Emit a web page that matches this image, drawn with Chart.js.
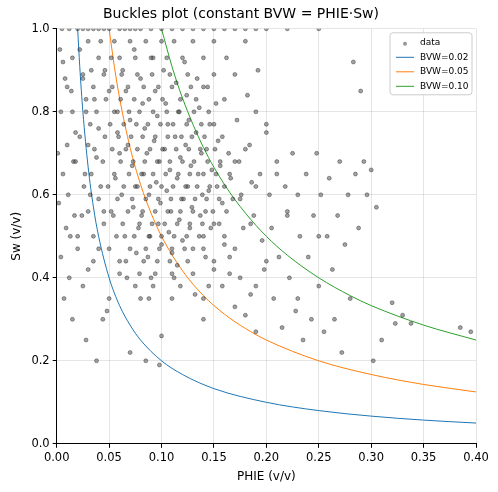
<!DOCTYPE html>
<html><head><meta charset="utf-8">
<script src="https://cdn.jsdelivr.net/npm/chart.js@4"></script>
<style>html,body{margin:0;background:#fff}#w{width:498px;height:492px}</style>
</head><body><div id="w"><canvas id="c" width="498" height="492"></canvas></div>
<script>
const dataPts = [
[0.005,1.0],[0.012,1.0],[0.02,1.0],[0.03,1.0],[0.04,1.0],[0.05,1.0],[0.06,1.0],[0.07,1.0],[0.08,1.0],[0.09,1.0],[0.1,1.0],[0.11,1.0],[0.12,1.0],[0.13,1.0],[0.14,1.0],[0.15,1.0],[0.16,1.0],[0.17,1.0],[0.18,1.0],[0.19,1.0],[0.2,1.0],[0.22,1.0],[0.25,1.0],[0.025,1.0],[0.035,1.0],[0.045,1.0],[0.065,1.0],[0.075,1.0],
[0.003,0.95],[0.008,0.88],[0.004,0.8],[0.01,0.72],[0.006,0.65],[0.002,0.58],[0.009,0.52],[0.004,0.45],[0.012,0.4],[0.007,0.35],[0.015,0.3],[0.011,0.6],[0.014,0.85],[0.016,0.68],[0.018,0.75],[0.013,0.5],[0.02,0.47],[0.017,0.55],[0.001,0.7],[0.006,0.92],
[0.022,0.95],[0.025,0.88],[0.028,0.8],[0.03,0.72],[0.027,0.65],[0.032,0.6],[0.024,0.55],[0.035,0.5],[0.03,0.42],[0.028,0.25],[0.038,0.2],[0.033,0.9],[0.036,0.83],[0.04,0.76],[0.038,0.69],[0.042,0.62],[0.045,0.56],[0.04,0.47],[0.044,0.3],[0.048,0.32],[0.042,0.97],[0.046,0.9],[0.05,0.85],
[0.052,0.93],[0.055,0.8],[0.058,0.75],[0.06,0.7],[0.056,0.64],[0.062,0.6],[0.054,0.55],[0.065,0.5],[0.06,0.44],[0.067,0.4],[0.07,0.22],[0.063,0.9],[0.066,0.85],[0.07,0.78],[0.068,0.72],[0.072,0.67],[0.075,0.62],[0.073,0.57],[0.078,0.52],[0.076,0.46],[0.08,0.35],[0.085,0.2],[0.074,0.95],
[0.08,0.88],[0.082,0.82],[0.084,0.76],[0.086,0.7],[0.083,0.65],[0.088,0.6],[0.081,0.55],[0.089,0.5],[0.087,0.45],[0.09,0.4],[0.092,0.93],[0.094,0.85],[0.096,0.79],[0.093,0.73],[0.098,0.68],[0.095,0.63],[0.099,0.58],[0.097,0.53],[0.1,0.48],[0.098,0.19],[0.1,0.26],
[0.102,0.9],[0.104,0.82],[0.106,0.77],[0.103,0.71],[0.108,0.66],[0.105,0.61],[0.109,0.56],[0.107,0.51],[0.11,0.46],[0.112,0.4],[0.112,0.97],[0.114,0.87],[0.116,0.8],[0.113,0.74],[0.118,0.69],[0.115,0.64],[0.119,0.59],[0.117,0.54],[0.12,0.49],[0.115,0.43],
[0.122,0.92],[0.124,0.84],[0.126,0.78],[0.123,0.72],[0.128,0.67],[0.125,0.62],[0.129,0.57],[0.127,0.52],[0.13,0.47],[0.132,0.36],[0.134,0.88],[0.136,0.81],[0.133,0.75],[0.138,0.7],[0.135,0.65],[0.139,0.6],[0.137,0.55],[0.14,0.5],[0.142,0.45],[0.14,0.3],
[0.144,0.86],[0.146,0.77],[0.143,0.71],[0.148,0.66],[0.145,0.61],[0.149,0.56],[0.147,0.52],[0.15,0.42],[0.152,0.82],[0.154,0.73],[0.156,0.67],[0.153,0.62],[0.158,0.58],[0.155,0.53],[0.16,0.48],[0.158,0.38],[0.162,0.93],[0.164,0.7],[0.166,0.64],[0.168,0.59],[0.165,0.45],[0.17,0.33],
[0.172,0.78],[0.174,0.68],[0.176,0.6],[0.178,0.52],[0.175,0.4],[0.18,0.31],[0.182,0.84],[0.184,0.72],[0.186,0.63],[0.188,0.55],[0.185,0.36],[0.19,0.27],[0.192,0.9],[0.194,0.65],[0.196,0.49],[0.198,0.42],
[0.2,0.75],[0.203,0.6],[0.205,0.52],[0.207,0.35],[0.21,0.68],[0.212,0.45],[0.215,0.28],[0.218,0.62],[0.22,0.55],[0.222,0.4],[0.225,0.7],[0.228,0.32],[0.23,0.6],[0.232,0.5],[0.235,0.25],[0.238,0.65],[0.24,0.45],[0.243,0.3],[0.245,0.55],[0.248,0.7],[0.25,0.38],
[0.252,0.6],[0.255,0.27],[0.258,0.5],[0.26,0.64],[0.263,0.42],[0.265,0.3],[0.268,0.55],[0.27,0.68],[0.272,0.22],[0.275,0.48],[0.278,0.6],[0.28,0.35],[0.283,0.92],[0.285,0.65],[0.288,0.52],[0.29,0.85],[0.293,0.68],[0.296,0.6],[0.3,0.66],[0.302,0.2],[0.305,0.57],[0.31,0.25],
[0.32,0.34],[0.323,0.29],[0.33,0.31],[0.338,0.29],[0.385,0.28],[0.395,0.27]
];
// extra dense-cluster rows: [Sw, list of PHIE values]
const clusterRows = [
[0.97,[0.03,0.055,0.07,0.085,0.1,0.13,0.15,0.18]],
[0.93,[0.015,0.04,0.06,0.075,0.09,0.105,0.12,0.14]],
[0.89,[0.025,0.045,0.062,0.077,0.091,0.108,0.125,0.15,0.17]],
[0.86,[0.01,0.035,0.053,0.068,0.083,0.097,0.11,0.128,0.14]],
[0.83,[0.028,0.047,0.061,0.074,0.088,0.101,0.118,0.133,0.16]],
[0.8,[0.015,0.038,0.058,0.069,0.079,0.092,0.105,0.117,0.131,0.145,0.19]],
[0.77,[0.032,0.051,0.064,0.076,0.087,0.099,0.111,0.124,0.138,0.15,0.2]],
[0.74,[0.022,0.046,0.059,0.071,0.082,0.094,0.106,0.119,0.129,0.141,0.158]],
[0.71,[0.036,0.053,0.066,0.077,0.089,0.101,0.114,0.126,0.137,0.151,0.18]],
[0.68,[0.018,0.044,0.061,0.073,0.084,0.096,0.108,0.12,0.131,0.144,0.156,0.17]],
[0.65,[0.033,0.055,0.069,0.081,0.092,0.104,0.116,0.127,0.14,0.152,0.165,0.21]],
[0.62,[0.026,0.049,0.064,0.077,0.089,0.1,0.111,0.123,0.134,0.146,0.16,0.19]],
[0.59,[0.04,0.058,0.072,0.085,0.097,0.109,0.121,0.132,0.143,0.155,0.175]],
[0.56,[0.03,0.052,0.068,0.082,0.094,0.106,0.118,0.13,0.142,0.162,0.22]],
[0.53,[0.045,0.063,0.079,0.091,0.103,0.115,0.127,0.139,0.15,0.185]],
[0.5,[0.02,0.057,0.074,0.088,0.1,0.112,0.124,0.136,0.16,0.25]],
[0.47,[0.05,0.07,0.085,0.098,0.11,0.122,0.14,0.17]],
[0.44,[0.035,0.066,0.083,0.096,0.108,0.125,0.15,0.2]],
[0.41,[0.06,0.079,0.094,0.11,0.13,0.165]],
[0.38,[0.025,0.075,0.092,0.118,0.145,0.19]],
[0.35,[0.05,0.088,0.11,0.14,0.23]]
];
const phie02 = [0.02,0.022,0.025,0.03,0.035,0.04,0.05,0.06,0.07,0.08,0.1,0.12,0.15,0.2,0.25,0.3,0.35,0.4];
const sw02   = [1,0.909,0.8,0.667,0.571,0.5,0.4,0.333,0.286,0.25,0.2,0.167,0.133,0.1,0.08,0.0667,0.0571,0.05];
const phie05 = [0.05,0.055,0.06,0.07,0.08,0.09,0.1,0.12,0.14,0.16,0.18,0.2,0.25,0.3,0.35,0.4];
const sw05   = [1,0.909,0.833,0.714,0.625,0.556,0.5,0.417,0.357,0.3125,0.278,0.25,0.2,0.167,0.143,0.125];
const phie10 = [0.1,0.11,0.12,0.14,0.16,0.18,0.2,0.22,0.25,0.28,0.3,0.35,0.4];
const sw10   = [1,0.909,0.833,0.714,0.625,0.556,0.5,0.4545,0.4,0.357,0.333,0.286,0.25];
const xTicks = [0,0.05,0.1,0.15,0.2,0.25,0.3,0.35,0.4];
const toXY=(xs,ys)=>xs.map((x,i)=>({x:x,y:ys[i]}));
const allPts = dataPts.map(p=>({x:p[0],y:p[1]}));
clusterRows.forEach(r=>r[1].forEach(x=>allPts.push({x:x,y:r[0]})));
const F='DejaVu Sans';
const legendPlugin={id:'lg',afterDraw(ch){
 const c=ch.ctx,a=ch.chartArea;const x0=a.right-86,y0=a.top+4,w=82,h=62;
 c.save();c.fillStyle='rgba(255,255,255,0.85)';c.strokeStyle='#ccc';c.lineWidth=1;
 c.beginPath();c.roundRect(x0,y0,w,h,3);c.fill();c.stroke();
 c.font='9px '+F;c.textBaseline='middle';c.fillStyle='#000';
 const items=[['data',null],['BVW=0.02','#1f77b4'],['BVW=0.05','#ff7f0e'],['BVW=0.10','#2ca02c']];
 items.forEach((it,i)=>{const yy=y0+10+i*14.5;
  if(it[1]){c.strokeStyle=it[1];c.beginPath();c.moveTo(x0+6,yy);c.lineTo(x0+24,yy);c.stroke();}
  else{c.fillStyle='rgba(80,80,80,0.6)';c.beginPath();c.arc(x0+15,yy+1,2,0,7);c.fill();}
  c.fillStyle='#000';c.fillText(it[0],x0+30,yy);});
 c.restore();}};
new Chart(document.getElementById('c'),{type:'scatter',
 data:{datasets:[
  {label:'data',data:allPts,pointRadius:2,backgroundColor:'rgba(70,70,70,0.5)',borderColor:'rgba(0,0,0,0.55)',borderWidth:0.6},
  {label:'BVW=0.02',data:toXY(phie02,sw02),showLine:true,pointRadius:0,borderColor:'#1f77b4',borderWidth:1,cubicInterpolationMode:'monotone'},
  {label:'BVW=0.05',data:toXY(phie05,sw05),showLine:true,pointRadius:0,borderColor:'#ff7f0e',borderWidth:1,cubicInterpolationMode:'monotone'},
  {label:'BVW=0.10',data:toXY(phie10,sw10),showLine:true,pointRadius:0,borderColor:'#2ca02c',borderWidth:1,cubicInterpolationMode:'monotone'}]},
 options:{responsive:false,animation:false,layout:{padding:{left:6,right:22,top:0,bottom:4}},
  plugins:{legend:{display:false},tooltip:{enabled:false},
   title:{display:true,text:'Buckles plot (constant BVW = PHIE·Sw)',font:{family:F,size:14,weight:'normal'},color:'#000',padding:{top:6,bottom:6}}},
  scales:{
   x:{min:0,max:0.4,afterBuildTicks:s=>{s.ticks=xTicks.map(v=>({value:v}));},
    ticks:{callback:v=>v.toFixed(2),color:'#000',font:{family:F,size:11.5},maxRotation:0},
    grid:{color:'rgba(0,0,0,0.1)',tickColor:'#000',tickLength:4},border:{color:'#000'},
    title:{display:true,text:'PHIE (v/v)',font:{family:F,size:12},color:'#000',padding:{top:2}}},
   y:{min:0,max:1,ticks:{stepSize:0.2,callback:v=>v.toFixed(1),color:'#000',font:{family:F,size:11.5}},
    grid:{color:'rgba(0,0,0,0.1)',tickColor:'#000',tickLength:4},border:{color:'#000'},
    title:{display:true,text:'Sw (v/v)',font:{family:F,size:12},color:'#000'}}}},
 plugins:[legendPlugin]});
</script></body></html>
